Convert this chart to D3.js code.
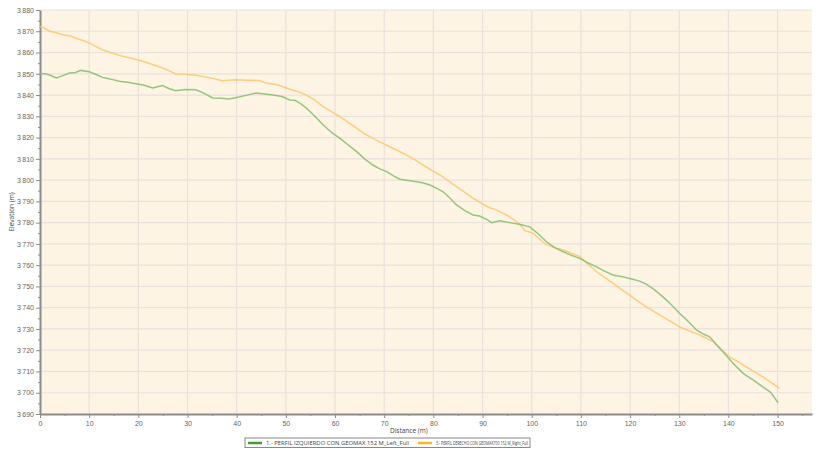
<!DOCTYPE html>
<html>
<head>
<meta charset="utf-8">
<script src="https://cdn.jsdelivr.net/npm/d3@7"></script>
<style>
  html, body { margin: 0; padding: 0; background: #fff; }
  svg { display: block; font-family: "Open Sans", "DejaVu Sans", sans-serif; }
</style>
</head>
<body>
<div id="chart"></div>
<script>
// distance (m) / elevation (m)
const leftDist = [0, 1.1, 2.2, 3.3, 4.5, 6, 7.2, 8.3, 10, 11.3, 12.7, 14.2, 16.1, 17.8, 19.5, 21.2, 22.9, 24.9, 26.2, 27.6, 29.5, 31.7, 33.2, 35.1, 36.8, 38.5, 40.7, 42.5, 44, 45.3, 47.4, 49.2, 50.8, 51.8, 53, 54.2, 55.9, 57.6, 59.3, 61, 62.7, 64.4, 66, 67.7, 69.1, 70.5, 71.9, 73.2, 74.9, 76.6, 78, 79.3, 80.6, 82, 83.4, 84.7, 86.4, 88.1, 89.4, 91.1, 91.8, 93.5, 95.5, 97.5, 99.6, 101.3, 103, 104.7, 106.4, 108.1, 109.8, 111.5, 113.2, 114.8, 116.5, 118.4, 120.3, 121.8, 123.3, 125, 126.7, 128.4, 130.1, 131.8, 133.5, 134.9, 136.2, 137.5, 138.9, 140.9, 143, 145, 147, 148.6, 150.1];
const leftElev = [3850, 3850, 3849.2, 3848, 3849, 3850.4, 3850.6, 3851.6, 3851, 3849.8, 3848.3, 3847.6, 3846.5, 3846, 3845.3, 3844.6, 3843.3, 3844.5, 3843.1, 3842, 3842.6, 3842.5, 3841, 3838.6, 3838.5, 3838.2, 3839.2, 3840.2, 3841, 3840.6, 3840, 3839.3, 3837.7, 3837.6, 3836, 3833.8, 3830, 3825.9, 3822.4, 3819.6, 3816.5, 3813.4, 3810, 3807.1, 3805.3, 3804, 3802, 3800.4, 3799.8, 3799.2, 3798.6, 3797.7, 3796.2, 3794.5, 3791.5, 3788.3, 3785.6, 3783.6, 3783.1, 3781.2, 3780, 3780.9, 3780, 3779.2, 3778, 3774.8, 3771, 3768.2, 3766.3, 3764.6, 3763.2, 3761, 3759.2, 3757.2, 3755.4, 3754.6, 3753.5, 3752.6, 3751.1, 3748.4, 3745.1, 3741.4, 3737.3, 3733.6, 3729.5, 3727.6, 3726.3, 3722.8, 3719.3, 3714, 3709.1, 3706, 3702.8, 3700.2, 3695.3];

const rightDist = [0, 1, 1.9, 3.2, 4.6, 6.2, 7.5, 8.8, 10, 11.3, 12.7, 14.8, 16.8, 18.8, 20.9, 22.9, 24.9, 26.3, 27.6, 29.6, 31.7, 34.4, 37.1, 38.4, 39.8, 42.2, 44.6, 45.9, 48.3, 50.8, 52.5, 54.2, 55.9, 57.6, 59.3, 61, 62.7, 64.4, 66, 67.7, 69.4, 71.1, 72.8, 74.5, 76.2, 77.9, 79.6, 81.3, 83, 84.7, 86.4, 88.1, 90.4, 91.5, 92.8, 95.2, 97, 97.8, 98.6, 99.5, 100.3, 101.6, 103, 104.7, 106.4, 108.1, 109.8, 111.5, 113.2, 114.8, 116.5, 118.2, 119.9, 121.6, 123.3, 125, 126.7, 128.4, 130.1, 131.8, 133.5, 135.2, 136.9, 138.5, 140.2, 141.9, 143.6, 145.3, 147, 148.7, 150.4];
const rightElev = [3872.3, 3871.4, 3870, 3869.4, 3868.4, 3867.8, 3866.6, 3865.6, 3864.5, 3862.9, 3861.3, 3859.7, 3858.2, 3857.2, 3855.9, 3854.4, 3852.7, 3851.4, 3849.9, 3849.8, 3849.3, 3848.2, 3846.7, 3847, 3847.2, 3847, 3846.8, 3845.7, 3844.8, 3842.7, 3841.6, 3840, 3837.6, 3834.5, 3832.2, 3829.8, 3827.2, 3824.4, 3821.8, 3819.6, 3817.6, 3815.7, 3813.8, 3811.8, 3809.6, 3807.1, 3804.7, 3802.4, 3799.7, 3796.9, 3794.2, 3791.4, 3788.3, 3787, 3786, 3783.2, 3780.4, 3778.6, 3776.2, 3775.6, 3775, 3772.3, 3769.5, 3768.2, 3767.1, 3765.6, 3764, 3760.3, 3756.9, 3754.2, 3751.5, 3748.6, 3745.9, 3743.1, 3740.4, 3738, 3735.7, 3733.3, 3731, 3729.3, 3727.9, 3726, 3724, 3720.4, 3716.9, 3714.6, 3712.2, 3709.8, 3707.5, 3704.8, 3702];

const seriesNames = [
  '1.- PERFIL IZQUIERDO CON GEOMAX 152 M_Left_Full',
  '3.- PERFIL DERECHO CON GEOMAX700 152 M_Right_Full'
];
const xTicks = d3.range(0, 151, 10);
const yTicks = d3.range(3690, 3881, 10);

const W = 821, H = 449;
const M = { left: 40, right: 9, top: 10, bottom: 35 };
const iw = W - M.left - M.right;
const ih = H - M.top - M.bottom;

const svg = d3.select('#chart').append('svg').attr('width', W).attr('height', H);
const g = svg.append('g').attr('transform', `translate(${M.left},${M.top})`);

const x = d3.scaleLinear().domain([0, 157]).range([0, iw]);
const y = d3.scaleLinear().domain([3690, 3880]).range([ih, 0]);

g.append('rect').attr('width', iw).attr('height', ih).attr('fill', '#fdf4e4');

// grid
g.append('g').selectAll('line').data(xTicks.slice(1)).join('line')
  .attr('x1', (d) => x(d)).attr('x2', (d) => x(d)).attr('y1', 0).attr('y2', ih)
  .attr('stroke', '#ebe1dc').attr('stroke-width', 1.2);
g.append('g').selectAll('line').data(yTicks.slice(1)).join('line')
  .attr('y1', (d) => y(d)).attr('y2', (d) => y(d)).attr('x1', 0).attr('x2', iw)
  .attr('stroke', '#ebe1dc').attr('stroke-width', 1.2);

const fmtY = (d) => d3.format(',')(d).replace(',', '\u2009');

function styleAxis(sel) {
  sel.select('.domain').attr('stroke', '#8c8c8c').attr('stroke-width', 2);
  sel.selectAll('.tick line').attr('stroke', '#8c8c8c');
  sel.selectAll('.tick text').attr('fill', '#666').attr('font-size', 7);
}

// minor ticks
g.append('g').attr('transform', `translate(0,${ih})`)
  .call(d3.axisBottom(x).tickValues(d3.range(5, 157, 10)).tickSize(2).tickFormat(''))
  .call(styleAxis).call((s) => s.select('.domain').remove());
g.append('g')
  .call(d3.axisLeft(y).tickValues(d3.range(3695, 3880, 10)).tickSize(2).tickFormat(''))
  .call(styleAxis).call((s) => s.select('.domain').remove());

g.append('g').attr('transform', `translate(0,${ih})`)
  .call(d3.axisBottom(x).tickValues(xTicks).tickSize(4).tickSizeOuter(0).tickPadding(3))
  .call(styleAxis);
g.append('g')
  .call(d3.axisLeft(y).tickValues(yTicks).tickFormat(fmtY).tickSize(4).tickSizeOuter(0).tickPadding(2))
  .call(styleAxis);

// axis titles
svg.append('text').attr('x', M.left + x(75)).attr('y', 433).attr('text-anchor', 'middle')
  .attr('font-size', 6.5).attr('fill', '#444').text('Distance (m)');
svg.append('text').attr('transform', `translate(14,${M.top + ih / 2}) rotate(-90)`)
  .attr('text-anchor', 'middle').attr('font-size', 6.5).attr('fill', '#444').text('Elevation (m)');

// lines
const line = d3.line().x((d) => x(d[0])).y((d) => y(d[1]));
const leftData = d3.zip(leftDist, leftElev);
const rightData = d3.zip(rightDist, rightElev);
g.append('path').datum(rightData).attr('fill', 'none')
  .attr('stroke', '#ffc56a').attr('stroke-opacity', 0.85).attr('stroke-width', 1.5).attr('d', line);
g.append('path').datum(leftData).attr('fill', 'none')
  .attr('stroke', '#82bd6c').attr('stroke-opacity', 0.85).attr('stroke-width', 1.5).attr('d', line);

// legend
const lg = svg.append('g').attr('transform', 'translate(245,438)');
lg.append('rect').attr('width', 285).attr('height', 9.5).attr('fill', '#fff')
  .attr('stroke', '#888').attr('stroke-width', 1);
const legendColors = ['#3f9e2e', '#ffb32c'];
const legendX = [3, 173];
const legendTextW = [143, 92];
seriesNames.forEach((name, i) => {
  lg.append('line').attr('x1', legendX[i]).attr('x2', legendX[i] + 14).attr('y1', 5).attr('y2', 5)
    .attr('stroke', legendColors[i]).attr('stroke-width', 2.5);
  lg.append('text').attr('x', legendX[i] + 18).attr('y', 7.2).attr('font-size', 5.2)
    .attr('textLength', legendTextW[i]).attr('lengthAdjust', 'spacingAndGlyphs')
    .attr('fill', '#444').text(name);
});
</script>
</body>
</html>
